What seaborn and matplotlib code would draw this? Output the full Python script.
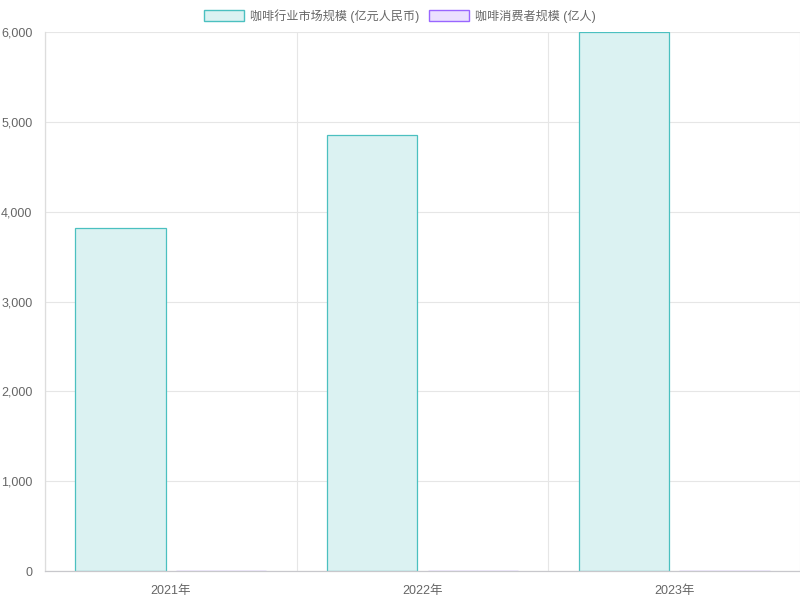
import numpy as np
import pandas as pd
import matplotlib
matplotlib.use('Agg')
import matplotlib.pyplot as plt
from matplotlib.patches import Patch
from matplotlib.ticker import FuncFormatter, FixedLocator
import seaborn as sns

years = ['2021年', '2022年', '2023年']
market_size = [3817, 4856, 6000]   # 亿元人民币
consumers = [3.0, 3.2, 3.5]        # 亿人
series_names = ['咖啡行业市场规模 (亿元人民币)', '咖啡消费者规模 (亿人)']

teal = (75 / 255, 192 / 255, 192 / 255)
purple = (153 / 255, 102 / 255, 255 / 255)
edge_colors = [teal, purple]
# 20% alpha fill on white
fill_colors = [tuple(0.8 + 0.2 * c for c in col) for col in edge_colors]

df = pd.DataFrame({
    'year': years * 2,
    'value': market_size + consumers,
    'series': [series_names[0]] * 3 + [series_names[1]] * 3,
})

sns.set_style('white')
plt.rcParams['font.family'] = ['Liberation Sans', 'Noto Sans CJK SC', 'DejaVu Sans']

fig = plt.figure(figsize=(8, 6), dpi=100)
ax = fig.add_axes([45 / 800, 29 / 600, 755 / 800, 539 / 600])

sns.barplot(data=df, x='year', y='value', hue='series', order=years,
            hue_order=series_names, palette=fill_colors, width=0.8, gap=0.1,
            saturation=1, legend=False, ax=ax, errorbar=None)

for cont, ec in zip(ax.containers, edge_colors):
    for bar in cont:
        bar.set_edgecolor(ec)
        bar.set_linewidth(0.9)

ax.set_xlim(-0.5, 2.5)
ax.set_ylim(0, 6000)
ax.set_yticks(np.arange(0, 6001, 1000))
ax.yaxis.set_major_formatter(FuncFormatter(lambda v, p: f'{int(v):,}'))
ax.xaxis.set_minor_locator(FixedLocator([-0.5, 0.5, 1.5, 2.5]))

grid_c = '#e6e6e6'
ax.grid(axis='y', which='major', color=grid_c, lw=0.8)
ax.grid(axis='x', which='minor', color=grid_c, lw=0.8)
ax.set_axisbelow(True)
ax.tick_params(axis='x', which='major', length=0, pad=10, labelsize=9, labelcolor='#666666')
ax.tick_params(axis='x', which='minor', length=6, color=grid_c, width=0.8)
ax.tick_params(axis='y', which='major', length=6, color=grid_c, width=0.8,
               pad=3, labelsize=9, labelcolor='#666666')
ax.set_xlabel('')
ax.set_ylabel('')

for side in ['top', 'right']:
    ax.spines[side].set_visible(False)
ax.spines['left'].set_color('#dddddd')
ax.spines['bottom'].set_color('#c8c8cc')
ax.spines['left'].set_linewidth(0.9)
ax.spines['bottom'].set_linewidth(0.9)

handles = [Patch(facecolor=f, edgecolor=e, linewidth=1.0) for f, e in zip(fill_colors, edge_colors)]
fig.legend(handles, series_names, loc='center', bbox_to_anchor=(0.5, 1 - 16 / 600),
           ncol=2, frameon=False, fontsize=8.7, handlelength=3.3, handleheight=0.99,
           handletextpad=0.55, columnspacing=0.75, labelcolor='#666666')

fig.savefig('out.png', dpi=100)
